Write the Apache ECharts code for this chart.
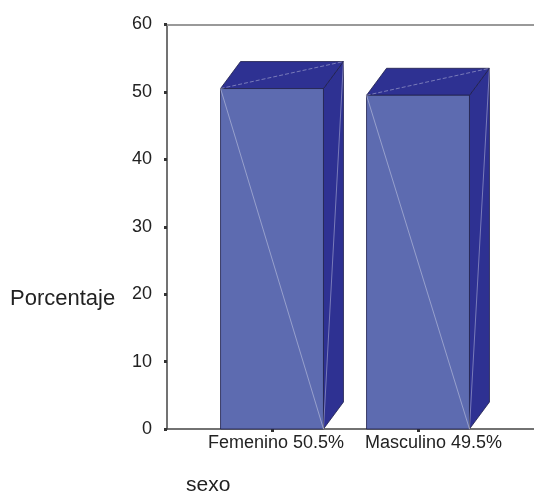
<!DOCTYPE html>
<html>
<head>
<meta charset="utf-8">
<script src="https://cdn.jsdelivr.net/npm/echarts@6/dist/echarts.min.js"></script>
<style>
html,body{margin:0;padding:0;background:#fff;}
#chart{width:534px;height:493px;}
</style>
</head>
<body>
<div id="chart"></div>
<script>
// ---- data ----
const categories = ['Femenino 50.5%', 'Masculino 49.5%'];
const percentages = [50.5, 49.5];
const yMin = 0, yMax = 60, yStep = 10;
const yAxisTitle = 'Porcentaje';
const xAxisTitle = 'sexo';

// ---- style (kept apart from data) ----
const labelShift = [8, 31];       // left padding per category label
const FONT = 'Liberation Sans, Arial, sans-serif';
const FRONT = '#5d6bb0';
const DARK = '#2e3192';
const EDGE = '#1e1e4a';
const DX = 20, DY = 27, BAR_FRAC = 0.705;

const chart = echarts.init(document.getElementById('chart'), null, {renderer: 'canvas'});

function renderBar(params, api) {
  const idx = api.value(0);
  const v = api.value(1);
  const top = api.coord([idx, v]);
  const bot = api.coord([idx, 0]);
  const w = api.size([1, 0])[0] * BAR_FRAC;
  const l = top[0] - w / 2, r = top[0] + w / 2, t = top[1], b = bot[1];
  const light = 'rgba(255,255,255,0.45)';
  return {
    type: 'group',
    children: [
      {type: 'polygon', shape: {points: [[r, t], [r + DX, t - DY], [r + DX, b - DY], [r, b]]},
        style: {fill: DARK, stroke: EDGE, lineWidth: 0.8}},
      {type: 'polygon', shape: {points: [[l, t], [l + DX, t - DY], [r + DX, t - DY], [r, t]]},
        style: {fill: DARK, stroke: EDGE, lineWidth: 0.8}},
      {type: 'rect', shape: {x: l, y: t, width: w, height: b - t},
        style: {fill: FRONT, stroke: EDGE, lineWidth: 0.8}},
      {type: 'line', shape: {x1: l, y1: t, x2: r, y2: b}, style: {stroke: light, lineWidth: 0.8}},
      {type: 'line', shape: {x1: l, y1: t, x2: r + DX, y2: t - DY}, style: {stroke: light, lineWidth: 0.8, lineDash: [4, 2]}},
      {type: 'line', shape: {x1: r + DX, y1: t - DY, x2: r, y2: b}, style: {stroke: light, lineWidth: 0.8}}
    ]
  };
}

const rich = {};
labelShift.forEach((p, i) => {
  rich['c' + i] = {fontFamily: FONT, fontSize: 18, color: '#222', padding: [0, 0, 0, p]};
});

const option = {
  animation: false,
  backgroundColor: '#fff',
  title: [
    {text: yAxisTitle, left: 10, top: 288, padding: 0, textStyle: {fontFamily: FONT, fontSize: 22, fontWeight: 'normal', color: '#222'}},
    {text: xAxisTitle, left: 186, top: 475, padding: 0, textStyle: {fontFamily: FONT, fontSize: 21, fontWeight: 'normal', color: '#222'}}
  ],
  grid: [
    {left: 199, right: 43, top: 24.5, bottom: 64},
    {left: 167, right: 0, top: 24.5, bottom: 64}
  ],
  xAxis: [
    {
      type: 'category', gridIndex: 0, data: categories, boundaryGap: true,
      axisLine: {show: false},
      axisTick: {show: true, alignWithLabel: true, length: 3, lineStyle: {width: 3, color: '#333'}},
      axisLabel: {
        margin: 5, interval: 0,
        formatter: (val, i) => '{c' + i + '|' + val + '}',
        rich: rich
      },
      splitLine: {show: false}
    },
    {
      type: 'value', gridIndex: 1, min: 0, max: 1, position: 'bottom',
      axisLine: {show: true, lineStyle: {color: '#444', width: 1.5}},
      axisTick: {show: false}, axisLabel: {show: false}, splitLine: {show: false}
    },
    {
      type: 'value', gridIndex: 1, min: 0, max: 1, position: 'top',
      axisLine: {show: true, lineStyle: {color: '#999', width: 2}},
      axisTick: {show: false}, axisLabel: {show: false}, splitLine: {show: false}
    }
  ],
  yAxis: [
    {
      type: 'value', gridIndex: 0, min: yMin, max: yMax, interval: yStep, offset: 32,
      axisLine: {show: true, lineStyle: {color: '#444', width: 1.5}},
      axisTick: {show: true, length: 3, lineStyle: {width: 3, color: '#333'}},
      axisLabel: {margin: 15, fontFamily: FONT, fontSize: 18, color: '#222', padding: [0, 0, 4, 0]},
      splitLine: {show: false}
    },
    {type: 'value', gridIndex: 1, show: false, min: 0, max: 1}
  ],
  series: [{
    type: 'custom',
    xAxisIndex: 0, yAxisIndex: 0,
    renderItem: renderBar,
    data: percentages.map((v, i) => [i, v]),
    clip: false,
    z: 1
  }]
};
chart.setOption(option);
</script>
</body>
</html>
